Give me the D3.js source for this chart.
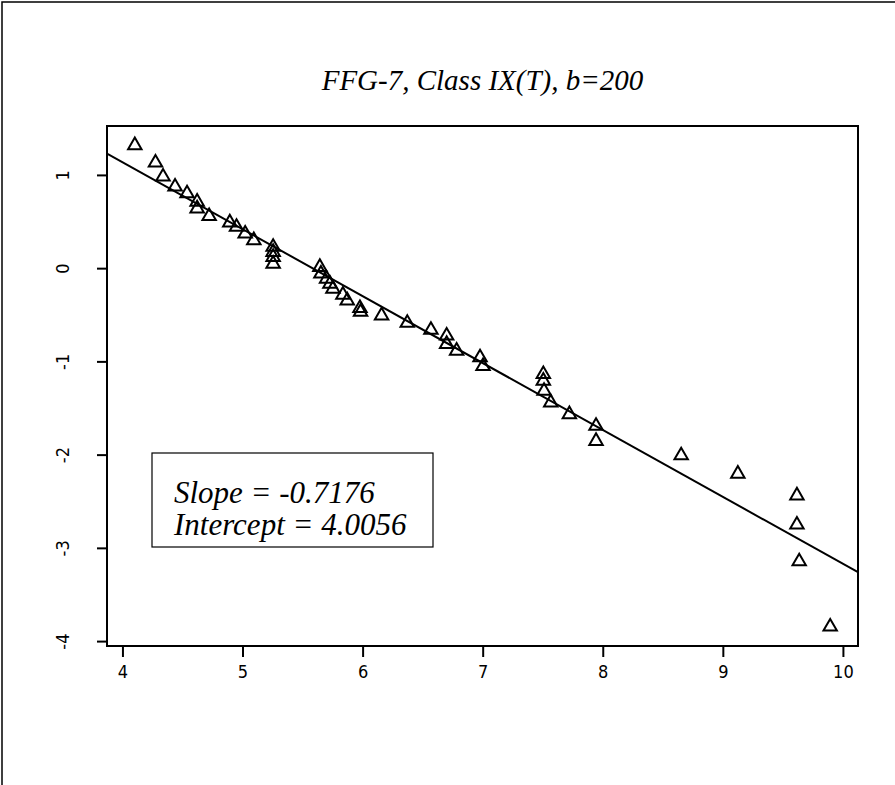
<!DOCTYPE html>
<html>
<head>
<meta charset="utf-8">
<script src="https://d3js.org/d3.v7.min.js"></script>
<style>
  body { margin: 0; background: #fff; }
  svg { display: block; }
</style>
</head>
<body>
<svg id="viz"></svg>
<script>
// values: log-size vs log-count
var xVals = [4.103, 4.275, 4.338, 4.438, 4.538, 4.622, 4.622, 4.722, 4.894, 4.950,
             5.022, 5.094, 5.255, 5.255, 5.255, 5.255, 5.644, 5.653, 5.700, 5.728,
             5.753, 5.836, 5.872, 5.978, 5.983, 6.158, 6.372, 6.569, 6.700, 6.700,
             6.783, 6.978, 7.003, 7.505, 7.505, 7.511, 7.567, 7.722, 7.944, 7.944,
             8.653, 9.125, 9.617, 9.617, 9.636, 9.894];
var yVals = [1.318, 1.131, 0.981, 0.873, 0.801, 0.712, 0.639, 0.557, 0.489, 0.442,
             0.370, 0.298, 0.227, 0.173, 0.119, 0.047, 0.012, -0.060, -0.114, -0.168,
             -0.222, -0.286, -0.348, -0.430, -0.469, -0.509, -0.588, -0.663, -0.724, -0.814,
             -0.886, -0.957, -1.051, -1.137, -1.209, -1.317, -1.441, -1.567, -1.693, -1.855,
             -2.009, -2.206, -2.439, -2.751, -3.146, -3.846];
var xTicks = [4, 5, 6, 7, 8, 9, 10];
var yTicks = [1, 0, -1, -2, -3, -4];
var slope = -0.7176;
var intercept = 4.0056;
var title = "FFG-7, Class IX(T), b=200";
var fitLines = ["Slope = -0.7176", "Intercept = 4.0056"];

var width = 895, height = 785;
var plot = {left: 107, right: 858, top: 126, bottom: 646};

var points = xVals.map(function(x, i) { return {x: x, y: yVals[i]}; });

// R-style 4% padding on the data range
function padded(ext) {
  var d = (ext[1] - ext[0]) * 0.04;
  return [ext[0] - d, ext[1] + d];
}
var xDom = padded(d3.extent(xVals));
var yDom = padded(d3.extent(yVals));

var x = d3.scaleLinear().domain(xDom).range([plot.left, plot.right]);
var y = d3.scaleLinear().domain(yDom).range([plot.bottom, plot.top]);

var svg = d3.select("#viz").attr("width", width).attr("height", height);

// page frame from the scan
svg.append("path")
  .attr("d", "M2,785V2H895")
  .attr("fill", "none").attr("stroke", "#000").attr("stroke-width", 1.5);

var serif = "'Liberation Serif', 'Times New Roman', serif";
var narrow = "'Liberation Sans Narrow', 'DejaVu Sans Condensed', 'Liberation Sans', sans-serif";

svg.append("text")
  .attr("x", (plot.left + plot.right) / 2)
  .attr("y", 90)
  .attr("text-anchor", "middle")
  .style("font-family", serif)
  .style("font-style", "italic")
  .style("font-size", "29px")
  .text(title);

// clip for the fitted line
svg.append("clipPath").attr("id", "clip")
  .append("rect")
  .attr("x", plot.left).attr("y", plot.top)
  .attr("width", plot.right - plot.left).attr("height", plot.bottom - plot.top);

svg.append("line")
  .attr("clip-path", "url(#clip)")
  .attr("x1", x(xDom[0])).attr("y1", y(intercept + slope * xDom[0]))
  .attr("x2", x(xDom[1])).attr("y2", y(intercept + slope * xDom[1]))
  .attr("stroke", "#000").attr("stroke-width", 2);

var tri = d3.symbol().type(d3.symbolTriangle).size(78);
svg.append("g").selectAll("path")
  .data(points).enter()
  .append("path")
  .attr("d", tri)
  .attr("transform", function(d) { return "translate(" + x(d.x) + "," + y(d.y) + ")"; })
  .attr("fill", "none")
  .attr("stroke", "#000")
  .attr("stroke-width", 2);

// box round plot region
svg.append("rect")
  .attr("x", plot.left).attr("y", plot.top)
  .attr("width", plot.right - plot.left).attr("height", plot.bottom - plot.top)
  .attr("fill", "none").attr("stroke", "#000").attr("stroke-width", 2);

// axes, plain hyphen for negatives as in the scan
var fmt = function(d) { return String(d); };
var xAxis = svg.append("g")
  .attr("transform", "translate(0," + plot.bottom + ")")
  .call(d3.axisBottom(x).tickValues(xTicks).tickSize(11).tickPadding(8).tickFormat(fmt));
var yAxis = svg.append("g")
  .attr("transform", "translate(" + plot.left + ",0)")
  .call(d3.axisLeft(y).tickValues(yTicks).tickSize(10).tickPadding(0).tickFormat(fmt));

[xAxis, yAxis].forEach(function(a) {
  a.select(".domain").remove();
  a.selectAll("line").attr("stroke-width", 2);
  a.selectAll("text")
    .style("font-family", narrow)
    .style("font-size", "18px")
    .attr("fill", "#000");
});

// y labels are drawn turned, reading upward
yAxis.selectAll("text")
  .attr("x", null)
  .attr("text-anchor", "middle")
  .attr("transform", "translate(-44,0) rotate(-90)")
  .attr("dy", "0.35em");

// slope/intercept box
var box = svg.append("g");
box.append("rect")
  .attr("x", 152).attr("y", 453)
  .attr("width", 281).attr("height", 94)
  .attr("fill", "#fff").attr("stroke", "#000").attr("stroke-width", 1.2);
box.selectAll("text")
  .data(fitLines).enter()
  .append("text")
  .attr("x", 174)
  .attr("y", function(d, i) { return 503 + i * 32; })
  .style("font-family", serif)
  .style("font-style", "italic")
  .style("font-size", "31px")
  .text(function(d) { return d; });
</script>
</body>
</html>
